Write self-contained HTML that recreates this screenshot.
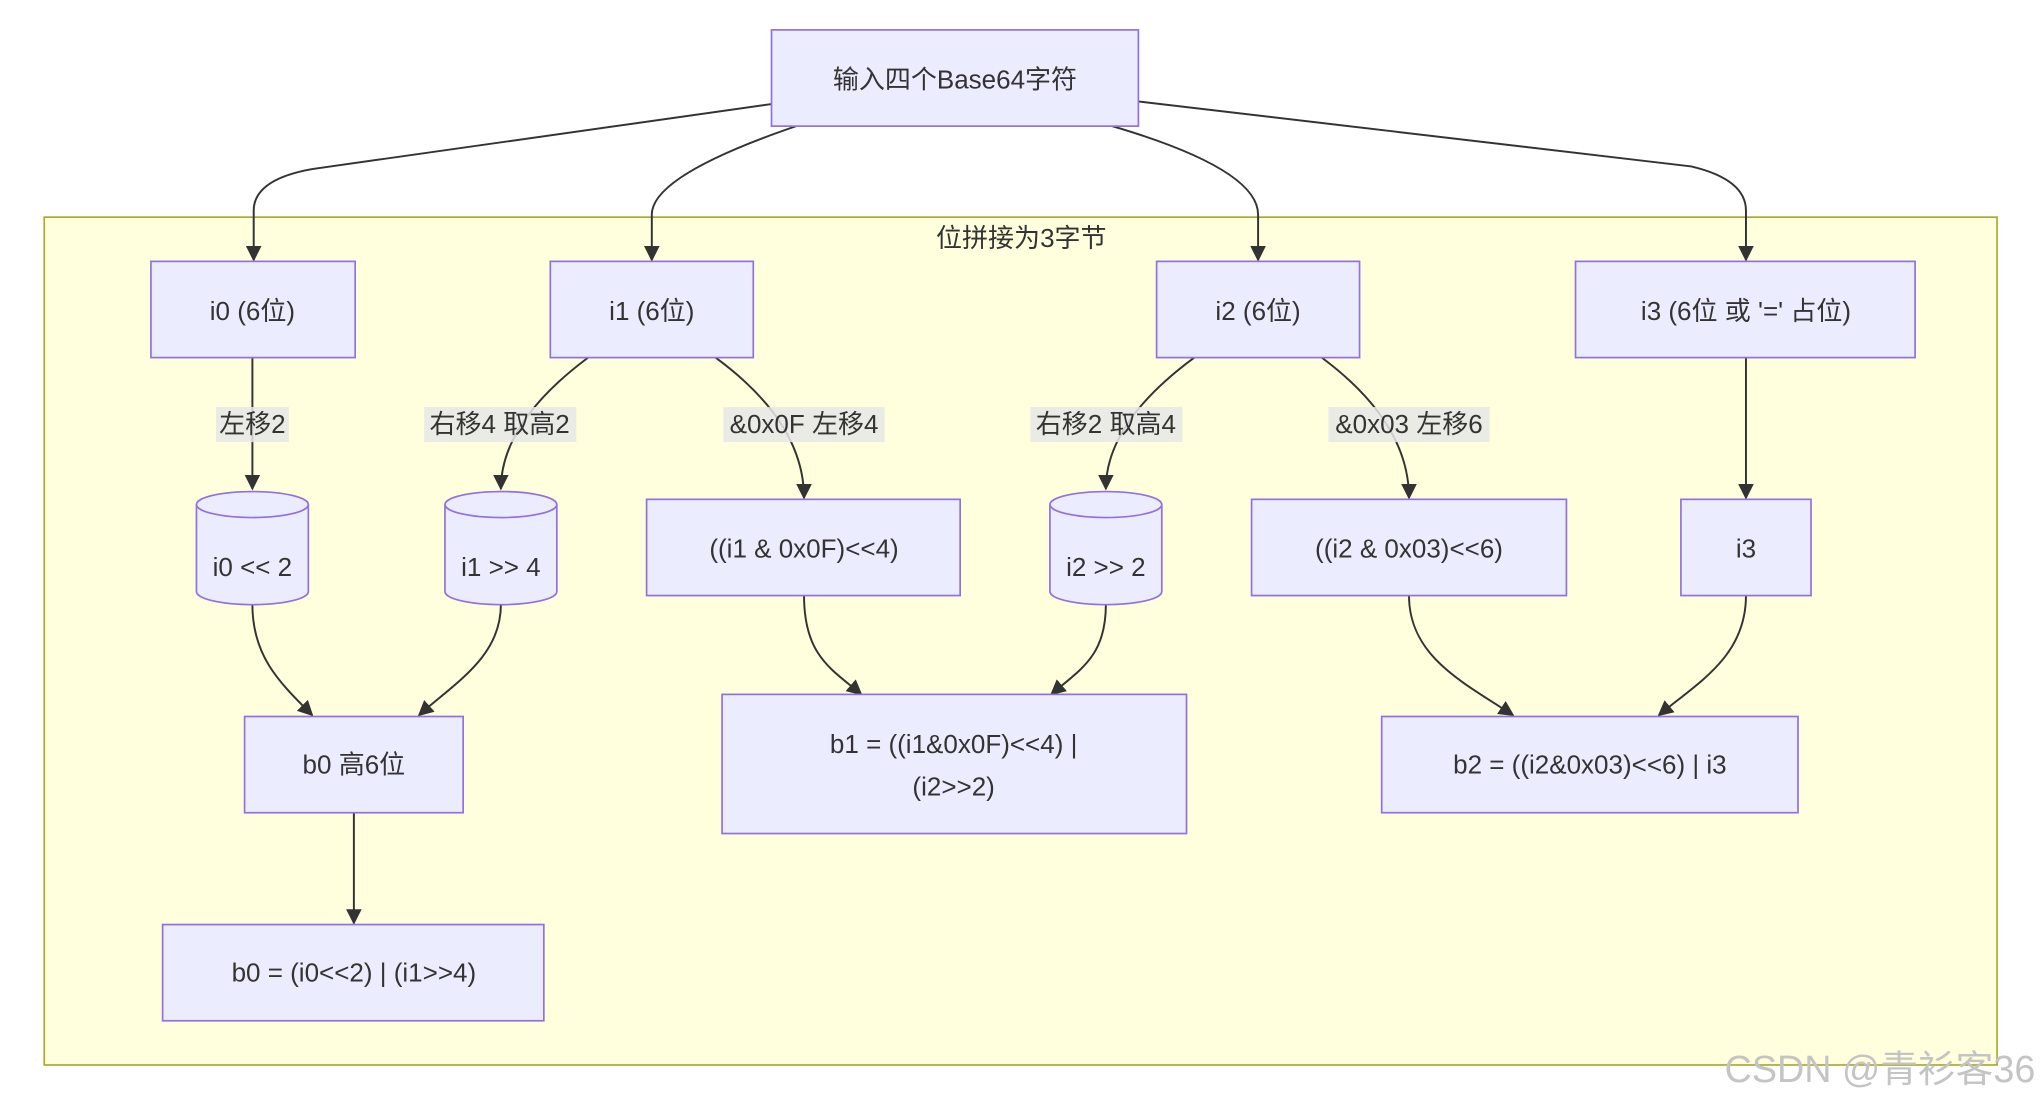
<!DOCTYPE html>
<html><head><meta charset="utf-8"><style>
html,body{margin:0;padding:0;background:#fff;}
svg{display:block;}
text{font-family:"Liberation Sans","Noto Sans CJK SC",sans-serif;font-size:20px;fill:#333;text-anchor:middle;dominant-baseline:central;}
.n{fill:#ececff;stroke:#9370db;stroke-width:1.3;}
.e{fill:none;stroke:#333;stroke-width:1.5;marker-end:url(#a);}
.lb{fill:#e8e8e8;opacity:0.85;}
</style></head><body>
<svg width="2040" height="1104" viewBox="0 0 1568 849" preserveAspectRatio="none">
<defs><marker id="a" viewBox="0 0 10 10" refX="9" refY="5" markerWidth="8" markerHeight="8" orient="auto"><path d="M0,0 L10,5 L0,10 z" fill="#333"/></marker></defs>
<rect x="34" y="167" width="1501" height="652" fill="#ffffde" stroke="#aaaa33" stroke-width="1.3"/>
<text x="785" y="183">位拼接为3字节</text>

<path class="e" d="M593,80 L240,130 Q195,138 195,162 L195,200"/>
<path class="e" d="M612,97 Q501,135 501,165 L501,200"/>
<path class="e" d="M855,97 Q967,130 967,165 L967,200"/>
<path class="e" d="M875,78 L1300,128 Q1342,138 1342,162 L1342,200"/>
<path class="e" d="M194,275 L194,376"/>
<path class="e" d="M452,275 Q385,325 385,376"/>
<path class="e" d="M550,275 Q618,325 618,383"/>
<path class="e" d="M918,275 Q850,325 850,376"/>
<path class="e" d="M1016,275 Q1083,325 1083,383"/>
<path class="e" d="M1342,275 L1342,383"/>
<path class="e" d="M194,465 C194,505 215,525 240,550"/>
<path class="e" d="M385,465 C385,505 350,525 322,550"/>
<path class="e" d="M618,458 C618,505 640,515 662,534"/>
<path class="e" d="M850,465 C850,505 830,515 808,534"/>
<path class="e" d="M1083,458 C1083,505 1125,525 1163,550"/>
<path class="e" d="M1342,458 C1342,505 1305,525 1275,550"/>
<path class="e" d="M272,625 L272,710"/>

<rect class="lb" x="166" y="313" width="56" height="27"/><text x="194" y="326">左移2</text>
<rect class="lb" x="326" y="313" width="117" height="27"/><text x="384" y="326">右移4 取高2</text>
<rect class="lb" x="556" y="313" width="124" height="27"/><text x="618" y="326">&amp;0x0F 左移4</text>
<rect class="lb" x="792" y="313" width="117" height="27"/><text x="850" y="326">右移2 取高4</text>
<rect class="lb" x="1021" y="313" width="124" height="27"/><text x="1083" y="326">&amp;0x03 左移6</text>

<rect class="n" x="593" y="23" width="282" height="74"/><text x="734" y="61">输入四个Base64字符</text>
<rect class="n" x="116" y="201" width="157" height="74"/><text x="194" y="239">i0 (6位)</text>
<rect class="n" x="423" y="201" width="156" height="74"/><text x="501" y="239">i1 (6位)</text>
<rect class="n" x="889" y="201" width="156" height="74"/><text x="967" y="239">i2 (6位)</text>
<rect class="n" x="1211" y="201" width="261" height="74"/><text x="1342" y="239">i3 (6位 或 '=' 占位)</text>

<g>
<path class="n" d="M151,388 A43,10 0 0 1 237,388 L237,455 A43,10 0 0 1 151,455 Z"/><path class="n" d="M151,388 A43,10 0 0 0 237,388" fill="none"/>
<text x="194" y="436">i0 &lt;&lt; 2</text>
<path class="n" d="M342,388 A43,10 0 0 1 428,388 L428,455 A43,10 0 0 1 342,455 Z"/><path class="n" d="M342,388 A43,10 0 0 0 428,388" fill="none"/>
<text x="385" y="436">i1 &gt;&gt; 4</text>
<path class="n" d="M807,388 A43,10 0 0 1 893,388 L893,455 A43,10 0 0 1 807,455 Z"/><path class="n" d="M807,388 A43,10 0 0 0 893,388" fill="none"/>
<text x="850" y="436">i2 &gt;&gt; 2</text>
</g>

<rect class="n" x="497" y="384" width="241" height="74"/><text x="618" y="422">((i1 &amp; 0x0F)&lt;&lt;4)</text>
<rect class="n" x="962" y="384" width="242" height="74"/><text x="1083" y="422">((i2 &amp; 0x03)&lt;&lt;6)</text>
<rect class="n" x="1292" y="384" width="100" height="74"/><text x="1342" y="422">i3</text>

<rect class="n" x="188" y="551" width="168" height="74"/><text x="272" y="588">b0 高6位</text>
<rect class="n" x="555" y="534" width="357" height="107"/><text x="733" y="572">b1 = ((i1&amp;0x0F)&lt;&lt;4) |</text><text x="733" y="605">(i2&gt;&gt;2)</text>
<rect class="n" x="1062" y="551" width="320" height="74"/><text x="1222" y="588">b2 = ((i2&amp;0x03)&lt;&lt;6) | i3</text>
<rect class="n" x="125" y="711" width="293" height="74"/><text x="272" y="748">b0 = (i0&lt;&lt;2) | (i1&gt;&gt;4)</text>

<text x="1445" y="822" style="font-size:29px;fill:#c4c4c4;">CSDN @青衫客36</text>
</svg>
</body></html>
